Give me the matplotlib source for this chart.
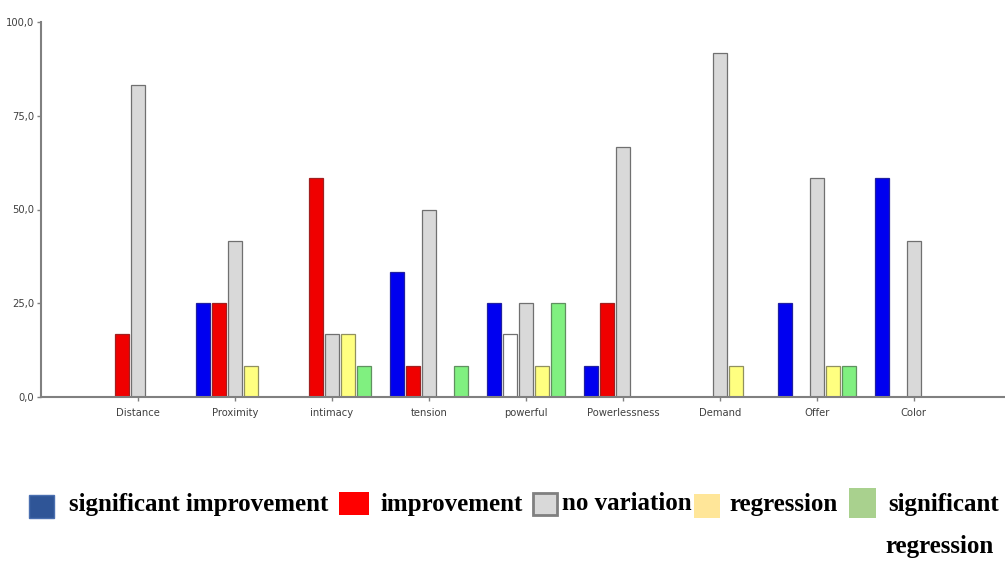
import matplotlib
matplotlib.use("Agg")
import matplotlib.pyplot as plt
from matplotlib.patches import Rectangle
import numpy as np

categories = ["Distance", "Proximity", "intimacy", "tension", "powerful",
              "Powerlessness", "Demand", "Offer", "Color"]
series_names = ["significant improvement", "improvement", "no variation",
                "regression", "significant regression"]
significant_improvement = [0, 25.0, 0, 33.3, 25.0, 8.3, 0, 25.0, 58.3]
improvement = [16.7, 25.0, 58.3, 8.3, 16.7, 25.0, 0, 0, 0]
no_variation = [83.3, 41.7, 16.7, 50.0, 25.0, 66.7, 91.7, 58.3, 41.7]
regression = [0, 8.3, 16.7, 0, 8.3, 0, 8.3, 8.3, 0]
significant_regression = [0, 0, 8.3, 8.3, 25.0, 0, 0, 8.3, 0]
y_ticks = [0, 25, 50, 75, 100]
y_tick_labels = ["0,0", "25,0", "50,0", "75,0", "100,0"]

series = [significant_improvement, improvement, no_variation, regression,
          significant_regression]
bar_colors = ["#0000F0", "#F00000", "#D9D9D9", "#FFFF80", "#80F080"]
edge_colors = ["#2020A0", "#A02020", "#707070", "#909060", "#609060"]
legend_colors = ["#2F5597", "#FF0000", "#D9D9D9", "#FFE699", "#A9D18E"]

fig = plt.figure(figsize=(10.05, 5.62), dpi=100)
ax = fig.add_axes([41 / 1005, 1 - 397 / 562, 1 - 41 / 1005, (397 - 22) / 562])

x = np.arange(len(categories))
step = 0.165
width = 0.15
for i, vals in enumerate(series):
    fc = [bar_colors[i] for _ in categories]
    ec = [edge_colors[i] for _ in categories]
    if i == 1:
        fc[categories.index("powerful")] = "#FFFFFF"
        ec[categories.index("powerful")] = "#707070"
    ax.bar(x + (i - 2) * step, vals, width=width, color=fc,
           edgecolor=ec, linewidth=0.9)

ax.set_xlim(-1.0, 8.94)
ax.set_ylim(0, 100)
ax.set_yticks(y_ticks)
ax.set_yticklabels(y_tick_labels)
ax.set_xticks(x)
ax.set_xticklabels(categories)
for s in ["top", "right"]:
    ax.spines[s].set_visible(False)
for s in ["left", "bottom"]:
    ax.spines[s].set_color("#808080")
    ax.spines[s].set_linewidth(1.5)
ax.tick_params(axis="both", colors="#808080", length=3, width=1,
               labelcolor="#404040", labelsize=8, pad=2)
ax.tick_params(axis="x", pad=5)
for lab in ax.get_xticklabels() + ax.get_yticklabels():
    lab.set_family(["DejaVu Sans Condensed", "DejaVu Sans"])
    lab.set_fontstretch("condensed")

# legend drawn manually below the chart
W, H = 1005, 562
def box(x0, y0, x1, y1, fc, ec=None, lw=0):
    fig.patches.append(Rectangle((x0 / W, 1 - y1 / H), (x1 - x0) / W, (y1 - y0) / H,
                                 transform=fig.transFigure, facecolor=fc,
                                 edgecolor=ec if ec else fc, linewidth=lw))
def label(xp, yp, s):
    fig.text(xp / W, 1 - yp / H, s, family=["Liberation Serif", "DejaVu Serif"],
             fontweight="bold", fontsize=18, va="center", ha="left", color="black")

box(29, 495, 54, 518, legend_colors[0], "#4A6FB0", 1)
label(69, 504, series_names[0])
box(339, 492, 369, 515, legend_colors[1])
label(380, 504, series_names[1])
box(533, 493, 557, 515, legend_colors[2], "#808080", 2)
label(562, 504, series_names[2])
box(694, 494, 720, 518, legend_colors[3])
label(729, 504, series_names[3])
box(849, 488, 876, 518, legend_colors[4])
label(888, 504, "significant")
label(885, 547, "regression")

fig.savefig("out.png", dpi=100)
